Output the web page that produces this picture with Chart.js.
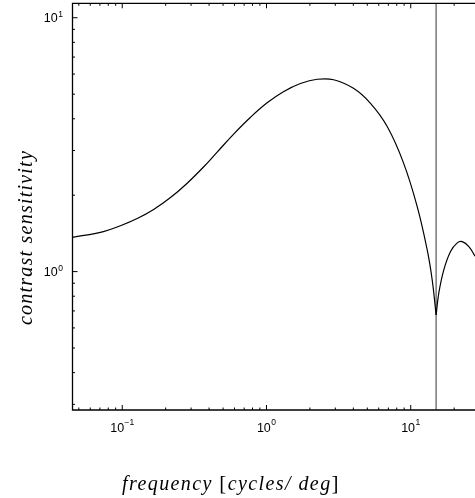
<!DOCTYPE html>
<html>
<head>
<meta charset="utf-8">
<script src="https://cdn.jsdelivr.net/npm/chart.js@4.4.0/dist/chart.umd.min.js"></script>
<style>
  html, body { margin: 0; padding: 0; background: #fff; }
  canvas { display: block; }
</style>
</head>
<body>
<canvas id="myChart" width="475" height="498"></canvas>
<script>
// values (log-log)
const frequency = [0.0452, 0.0741, 0.0972, 0.127, 0.165, 0.216, 0.282, 0.366, 0.455, 0.590,
  0.775, 1.01, 1.31, 1.72, 2.25, 2.92, 4.01, 5.26, 6.87, 8.91,
  11.09, 13.01, 14.09, 15.0, 15.66, 16.96, 18.88, 21.01, 22.76, 25.3, 27.9];
const sensitivity = [1.363, 1.438, 1.516, 1.618, 1.756, 1.957, 2.23, 2.582, 2.957, 3.474,
  4.055, 4.622, 5.114, 5.508, 5.723, 5.70, 5.27, 4.60, 3.728, 2.682,
  1.804, 1.218, 0.927, 0.675, 0.824, 1.016, 1.199, 1.298, 1.313, 1.255, 1.15];
const notchFrequency = 15;

const xRange = [0.0452, 27.9];
const yRange = [0.285, 11.4];
const xTickValues = [0.1, 1, 10];
const xTickExponents = ['\u22121', '0', '1'];
const yTickValues = [1, 10];
const yTickExponents = ['0', '1'];

// all 1..9 x 10^n positions inside a range, flagged major when m == 1
function logTicks(lo, hi) {
  const out = [];
  for (let e = Math.floor(Math.log10(lo)); e <= Math.ceil(Math.log10(hi)); e++) {
    for (let m = 1; m < 10; m++) {
      const v = m * Math.pow(10, e);
      if (v >= lo && v <= hi) out.push({ v: v, major: m === 1 });
    }
  }
  return out;
}

// draws text pieces with letter spacing stretched to a target width
function drawStretched(ctx, pieces, x, y, target) {
  let natural = 0, chars = 0;
  pieces.forEach(p => {
    ctx.font = p.font;
    ctx.letterSpacing = '0px';
    natural += ctx.measureText(p.text).width;
    chars += p.text.length;
  });
  const sp = (target - natural) / chars;
  let cx = x;
  pieces.forEach(p => {
    ctx.font = p.font;
    ctx.letterSpacing = sp + 'px';
    ctx.fillText(p.text, cx, y);
    cx += ctx.measureText(p.text).width;
  });
  ctx.letterSpacing = '0px';
}

const baseFont = '12.5px "Liberation Sans", Arial, sans-serif';
const supFont = '8.5px "Liberation Sans", Arial, sans-serif';

const frameAndTicks = {
  id: 'frameAndTicks',
  afterDraw(chart) {
    const { ctx, chartArea: a, scales: { x, y } } = chart;
    ctx.save();
    ctx.strokeStyle = '#000';
    ctx.fillStyle = '#000';

    // frame (right side falls outside the picture)
    ctx.lineWidth = 1.3;
    ctx.beginPath();
    ctx.moveTo(a.right + 3, a.top);
    ctx.lineTo(a.left, a.top);
    ctx.lineTo(a.left, a.bottom);
    ctx.lineTo(a.right + 3, a.bottom);
    ctx.stroke();

    // inward ticks
    ctx.lineWidth = 1;
    ctx.beginPath();
    logTicks(xRange[0], xRange[1]).forEach(t => {
      const px = x.getPixelForValue(t.v);
      const len = t.major ? 5 : 2.5;
      ctx.moveTo(px, a.bottom); ctx.lineTo(px, a.bottom - len);
      ctx.moveTo(px, a.top); ctx.lineTo(px, a.top + len);
    });
    logTicks(yRange[0], yRange[1]).forEach(t => {
      const py = y.getPixelForValue(t.v);
      const len = t.major ? 5 : 2.5;
      ctx.moveTo(a.left, py); ctx.lineTo(a.left + len, py);
    });
    ctx.stroke();

    // tick labels 10^n
    ctx.textBaseline = 'alphabetic';
    ctx.textAlign = 'left';
    xTickValues.forEach((v, i) => {
      const px = x.getPixelForValue(v);
      ctx.font = baseFont;
      const w1 = ctx.measureText('10').width;
      ctx.font = supFont;
      const w2 = ctx.measureText(xTickExponents[i]).width;
      const sx = px - (w1 + w2 + 0.5) / 2;
      ctx.font = baseFont;
      ctx.fillText('10', sx, a.bottom + 22);
      ctx.font = supFont;
      ctx.fillText(xTickExponents[i], sx + w1 + 0.5, a.bottom + 15);
    });
    yTickValues.forEach((v, i) => {
      const py = y.getPixelForValue(v);
      ctx.font = supFont;
      const w2 = ctx.measureText(yTickExponents[i]).width;
      ctx.font = baseFont;
      const w1 = ctx.measureText('10').width;
      const right = a.left - 9.5;
      ctx.fillText('10', right - w2 - 0.5 - w1, py + 4.5);
      ctx.font = supFont;
      ctx.fillText(yTickExponents[i], right - w2, py - 0.5);
    });

    // axis titles
    const it = 'italic 20px "Liberation Serif", "Times New Roman", serif';
    const up = '21px "Liberation Serif", "Times New Roman", serif';
    drawStretched(ctx, [
      { text: 'frequency ', font: it },
      { text: '[', font: up },
      { text: 'cycles/ deg', font: it },
      { text: ']', font: up }
    ], 122, 490, 218);

    ctx.save();
    ctx.translate(32, 325);
    ctx.rotate(-Math.PI / 2);
    drawStretched(ctx, [{ text: 'contrast sensitivity', font: it }], 0, 0, 175);
    ctx.restore();

    ctx.restore();
  }
};

const points = frequency.map((f, i) => ({ x: f, y: sensitivity[i] }));
const curveStyle = {
  showLine: true,
  borderColor: '#000',
  borderWidth: 1.2,
  pointRadius: 0,
  tension: 0.4
};

const ctx = document.getElementById('myChart').getContext('2d');
const myChart = new Chart(ctx, {
  type: 'scatter',
  data: {
    datasets: [
      // the curve has a cusp at the notch, so each side is its own smooth line
      Object.assign({ label: 'below notch', data: points.filter(p => p.x <= notchFrequency) }, curveStyle),
      Object.assign({ label: 'above notch', data: points.filter(p => p.x >= notchFrequency) }, curveStyle),
      {
        label: 'notch',
        data: [{ x: notchFrequency, y: yRange[0] }, { x: notchFrequency, y: yRange[1] }],
        showLine: true,
        borderColor: '#777',
        borderWidth: 1.5,
        pointRadius: 0
      }
    ]
  },
  options: {
    responsive: false,
    animation: false,
    layout: { padding: { left: 72.5, top: 3.3, right: 0, bottom: 88 } },
    scales: {
      x: { type: 'logarithmic', min: xRange[0], max: xRange[1], display: false },
      y: { type: 'logarithmic', min: yRange[0], max: yRange[1], display: false }
    },
    plugins: {
      legend: { display: false },
      tooltip: { enabled: false }
    }
  },
  plugins: [frameAndTicks]
});
</script>
</body>
</html>
